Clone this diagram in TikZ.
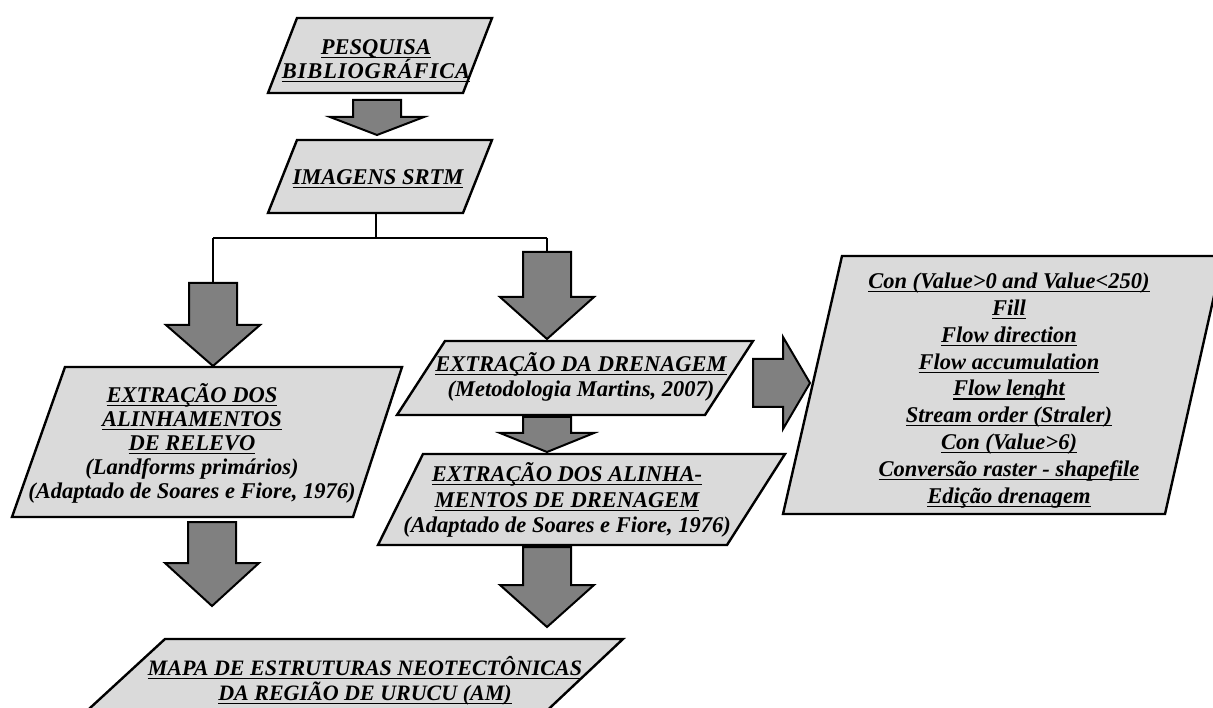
\documentclass[tikz,border=0pt]{standalone}
\usepackage{fontspec}
\setmainfont{Liberation Serif}
\usepackage{tikz}
\usetikzlibrary{calc}

\definecolor{boxgray}{RGB}{218,218,218}
\definecolor{arrowgray}{RGB}{128,128,128}

\newcommand{\uln}[1]{\setbox0\hbox{#1}\dp0=0pt\vtop{\box0\kern2.5pt\hrule height 1.2pt}}
\newcommand{\fatdown}[3][40]{%
  \draw[fat] ($(#3|-#2)+(-24,0)$) -- ($(#3|-#2)+(24,0)$) -- ($(#3)+(24,-#1)$)
    -- ($(#3)+(47,-#1)$) -- (#3) -- ($(#3)+(-47,-#1)$) -- ($(#3)+(-24,-#1)$) -- cycle;}
\newcommand{\fatright}[3][27]{%
  \draw[fat] ($(#3-|#2)+(0,-24)$) -- ($(#3)+(-#1,-24)$) -- ($(#3)+(-#1,-46)$)
    -- (#3) -- ($(#3)+(-#1,46)$) -- ($(#3)+(-#1,24)$) -- ($(#3-|#2)+(0,24)$) -- cycle;}

\begin{document}
\begin{tikzpicture}[x=1pt,y=-1pt,line join=miter]
  \tikzstyle{box}=[draw=black,line width=2.4pt,fill=boxgray]
  \tikzstyle{fat}=[draw=black,line width=2pt,fill=arrowgray]
  \tikzstyle{conn}=[draw=black,line width=2pt]
  \tikzstyle{txt}=[align=center,inner sep=0pt,text=black,
                   font=\bfseries\itshape\fontsize{22.5}{24.5}\selectfont]

  \useasboundingbox (0,0) rectangle (1213,708);
  \clip (0,0) rectangle (1213,708);

  \draw[box] (297,18) -- (492,18) -- (463,93) -- (268,93) -- cycle;
  \draw[box] (297,140) -- (492,140) -- (463,213) -- (268,213) -- cycle;
  \draw[box] (65,367) -- (402,367) -- (353,517) -- (12,517) -- cycle;
  \draw[box] (445,341) -- (753,341) -- (705,415) -- (397,415) -- cycle;
  \draw[box] (423,454) -- (785,454) -- (727,545) -- (378,545) -- cycle;
  \draw[box] (842,256) -- (1223,256) -- (1165,514) -- (783,514) -- cycle;
  \draw[box] (165,639) -- (623,639) -- (537,720) -- (77,720) -- cycle;

  \node[txt,font=\bfseries\itshape\fontsize{22.5}{23}\selectfont] (pesq) at (376,61)
    {\uln{PESQUISA}\\\uln{\addfontfeature{LetterSpace=4}BIBLIOGRÁFICA}};
  \node[txt] (imag)   at (378,179) {\uln{IMAGENS SRTM}};
  \node[txt,font=\bfseries\itshape\fontsize{22.5}{24}\selectfont] (relevo) at (192,443)
    {\uln{EXTRAÇÃO DOS}\\\uln{ALINHAMENTOS}\\\uln{DE RELEVO}\\
     (Landforms primários)\\(Adaptado de Soares e Fiore, 1976)};
  \node[txt,font=\bfseries\itshape\fontsize{22.5}{25}\selectfont] (dren) at (581,377)
    {\uln{EXTRAÇÃO DA DRENAGEM}\\(Metodologia Martins, 2007)};
  \node[txt,font=\bfseries\itshape\fontsize{22.5}{25.5}\selectfont] (alin) at (567,500)
    {\uln{EXTRAÇÃO DOS ALINHA-}\\\uln{MENTOS DE DRENAGEM}\\(Adaptado de Soares e Fiore, 1976)};
  \node[txt,font=\bfseries\itshape\fontsize{22.5}{26.8}\selectfont] (etapas) at (1009,390)
    {\uln{Con (Value>0 and Value<250)}\\\uln{Fill}\\\uln{Flow direction}\\\uln{Flow accumulation}\\
     \uln{Flow lenght}\\\uln{Stream order (Straler)}\\\uln{Con (Value>6)}\\
     \uln{Conversão raster - shapefile}\\\uln{Edição drenagem}};
  \node[txt,font=\bfseries\itshape\fontsize{22}{25}\selectfont] (mapa) at (365,680)
    {\uln{MAPA DE ESTRUTURAS NEOTECTÔNICAS}\\\uln{DA REGIÃO DE URUCU (AM)}};

  \coordinate (pesq-s)   at (377,100);
  \coordinate (imag-n)   at (377,135);
  \coordinate (imag-s)   at (376,213);
  \coordinate (fork)     at (376,238);
  \coordinate (fork-l)   at (213,238);
  \coordinate (fork-r)   at (547,238);
  \coordinate (relevo-a) at (213,283);
  \coordinate (relevo-n) at (213,366);
  \coordinate (dren-a)   at (547,252);
  \coordinate (dren-n)   at (547,339);
  \coordinate (relevo-s) at (212,522);
  \coordinate (mapa-l)   at (212,606);
  \coordinate (dren-s)   at (547,417);
  \coordinate (alin-n)   at (547,452);
  \coordinate (alin-s)   at (547,547);
  \coordinate (mapa-r)   at (547,627);
  \coordinate (dren-e)   at (753,383);
  \coordinate (etapas-w) at (810,383);

  \draw[conn] (imag-s) -- (fork) (fork-l) -- (fork-r)
              (fork-l) -- (relevo-a) (fork-r) -- (dren-a);

  \fatdown[18]{pesq-s}{imag-n}
  \fatdown[41]{relevo-a}{relevo-n}
  \fatdown[42]{dren-a}{dren-n}
  \fatdown[43]{relevo-s}{mapa-l}
  \fatdown[19]{dren-s}{alin-n}
  \fatdown[42]{alin-s}{mapa-r}
  \fatright{dren-e}{etapas-w}
\end{tikzpicture}
\end{document}
